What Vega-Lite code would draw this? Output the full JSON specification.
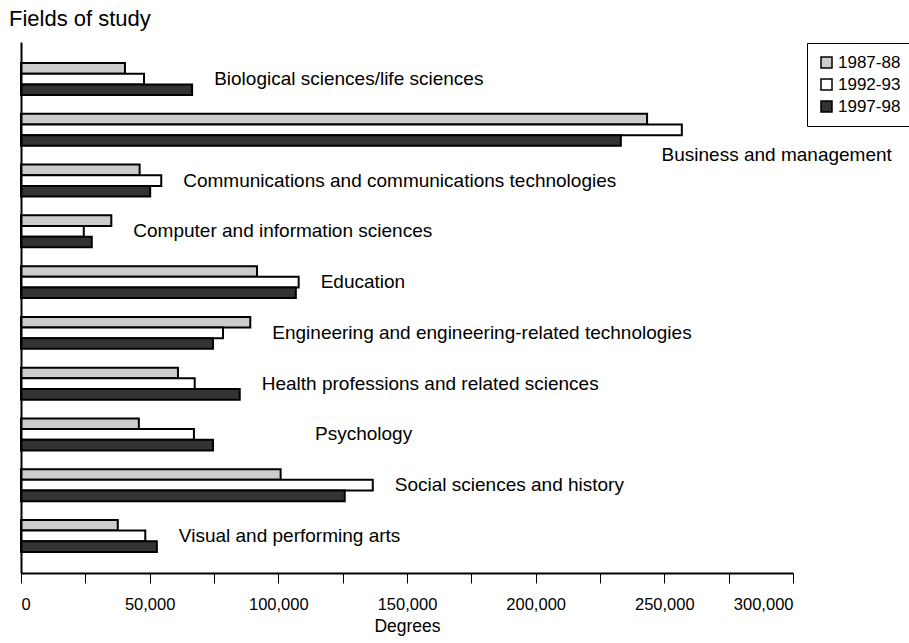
{
  "$schema": "https://vega.github.io/schema/vega-lite/v6.json",
  "width": 772,
  "height": 531,
  "autosize": {"type": "none"},
  "padding": {"left": 21, "top": 42, "right": 116, "bottom": 70},
  "background": "white",
  "title": {"text": "Fields of study", "anchor": "start", "frame": "group", "dx": -12, "offset": 11, "fontSize": 22, "fontWeight": "normal", "font": "Liberation Sans", "color": "black"},
  "data": {"values": [
    {"field": "Biological sciences/life sciences", "year": "1987-88", "degrees": 40400},
    {"field": "Biological sciences/life sciences", "year": "1992-93", "degrees": 47800},
    {"field": "Biological sciences/life sciences", "year": "1997-98", "degrees": 66500},
    {"field": "Business and management", "year": "1987-88", "degrees": 243300},
    {"field": "Business and management", "year": "1992-93", "degrees": 256800},
    {"field": "Business and management", "year": "1997-98", "degrees": 233100},
    {"field": "Communications and communications technologies", "year": "1987-88", "degrees": 46100},
    {"field": "Communications and communications technologies", "year": "1992-93", "degrees": 54500},
    {"field": "Communications and communications technologies", "year": "1997-98", "degrees": 50200},
    {"field": "Computer and information sciences", "year": "1987-88", "degrees": 35100},
    {"field": "Computer and information sciences", "year": "1992-93", "degrees": 24400},
    {"field": "Computer and information sciences", "year": "1997-98", "degrees": 27500},
    {"field": "Education", "year": "1987-88", "degrees": 91700},
    {"field": "Education", "year": "1992-93", "degrees": 107900},
    {"field": "Education", "year": "1997-98", "degrees": 106800},
    {"field": "Engineering and engineering-related technologies", "year": "1987-88", "degrees": 89100},
    {"field": "Engineering and engineering-related technologies", "year": "1992-93", "degrees": 78500},
    {"field": "Engineering and engineering-related technologies", "year": "1997-98", "degrees": 74600},
    {"field": "Health professions and related sciences", "year": "1987-88", "degrees": 61000},
    {"field": "Health professions and related sciences", "year": "1992-93", "degrees": 67500},
    {"field": "Health professions and related sciences", "year": "1997-98", "degrees": 85000},
    {"field": "Psychology", "year": "1987-88", "degrees": 45800},
    {"field": "Psychology", "year": "1992-93", "degrees": 67200},
    {"field": "Psychology", "year": "1997-98", "degrees": 74600},
    {"field": "Social sciences and history", "year": "1987-88", "degrees": 100900},
    {"field": "Social sciences and history", "year": "1992-93", "degrees": 136700},
    {"field": "Social sciences and history", "year": "1997-98", "degrees": 125800},
    {"field": "Visual and performing arts", "year": "1987-88", "degrees": 37600},
    {"field": "Visual and performing arts", "year": "1992-93", "degrees": 48300},
    {"field": "Visual and performing arts", "year": "1997-98", "degrees": 52800}
  ]},
  "encoding": {
    "y": {
      "field": "field", "type": "nominal",
      "sort": ["Biological sciences/life sciences", "Business and management", "Communications and communications technologies", "Computer and information sciences", "Education", "Engineering and engineering-related technologies", "Health professions and related sciences", "Psychology", "Social sciences and history", "Visual and performing arts"],
      "scale": {"paddingInner": 0.37, "paddingOuter": 0.415},
      "axis": {"labels": false, "ticks": false, "title": null, "domainColor": "black", "domainWidth": 2, "zindex": 1}
    }
  },
  "layer": [
    {
      "mark": {"type": "bar", "stroke": "black", "strokeWidth": 2},
      "encoding": {
        "x": {
          "field": "degrees", "type": "quantitative",
          "scale": {"domain": [0, 300000], "nice": false},
          "axis": {
            "title": "Degrees",
            "values": [0, 25000, 50000, 75000, 100000, 125000, 150000, 175000, 200000, 225000, 250000, 275000, 300000],
            "labelExpr": "datum.value % 50000 == 0 ? format(datum.value, ',') : ''",
            "grid": false, "domainColor": "black", "domainWidth": 2, "tickColor": "black", "tickSize": 10, "tickWidth": 1,
            "labelPadding": 13, "labelFontSize": 16.5, "labelFont": "Liberation Sans", "labelColor": "black",
            "titleFontSize": 17.5, "titleFont": "Liberation Sans", "titleFontWeight": "normal", "titleColor": "black", "titlePadding": 5
          }
        },
        "yOffset": {"field": "year", "type": "nominal", "sort": ["1987-88", "1992-93", "1997-98"]},
        "fill": {
          "field": "year", "type": "nominal",
          "scale": {"domain": ["1987-88", "1992-93", "1997-98"], "range": ["#cccccc", "#ffffff", "#333333"]},
          "legend": {
            "title": null, "orient": "none", "legendX": 786, "legendY": 1,
            "strokeColor": "black", "fillColor": "white", "padding": 11,
            "symbolType": "square", "symbolSize": 121, "symbolStrokeColor": "black", "symbolStrokeWidth": 1.5,
            "labelFontSize": 17, "labelFont": "Liberation Sans", "labelColor": "black", "rowPadding": 4, "labelOffset": 3
          }
        }
      }
    },
    {
      "transform": [
        {"aggregate": [{"op": "max", "field": "degrees", "as": "maxDeg"}], "groupby": ["field"]},
        {"filter": "datum.field != 'Business and management' && datum.field != 'Psychology'"}
      ],
      "mark": {"type": "text", "align": "left", "baseline": "middle", "dx": 22, "fontSize": 19, "font": "Liberation Sans", "color": "black"},
      "encoding": {
        "x": {"field": "maxDeg", "type": "quantitative"},
        "text": {"field": "field"}
      }
    },
    {
      "transform": [
        {"aggregate": [{"op": "max", "field": "degrees", "as": "maxDeg"}], "groupby": ["field"]},
        {"filter": "datum.field == 'Psychology'"}
      ],
      "mark": {"type": "text", "align": "left", "baseline": "middle", "dx": 102, "fontSize": 19, "font": "Liberation Sans", "color": "black"},
      "encoding": {
        "x": {"field": "maxDeg", "type": "quantitative"},
        "text": {"field": "field"}
      }
    },
    {
      "transform": [
        {"aggregate": [{"op": "max", "field": "degrees", "as": "maxDeg"}], "groupby": ["field"]},
        {"filter": "datum.field == 'Business and management'"}
      ],
      "mark": {"type": "text", "align": "right", "baseline": "middle", "dx": 210, "dy": 25, "fontSize": 19, "font": "Liberation Sans", "color": "black"},
      "encoding": {
        "x": {"field": "maxDeg", "type": "quantitative"},
        "text": {"field": "field"}
      }
    }
  ],
  "config": {"view": {"stroke": null}}
}
